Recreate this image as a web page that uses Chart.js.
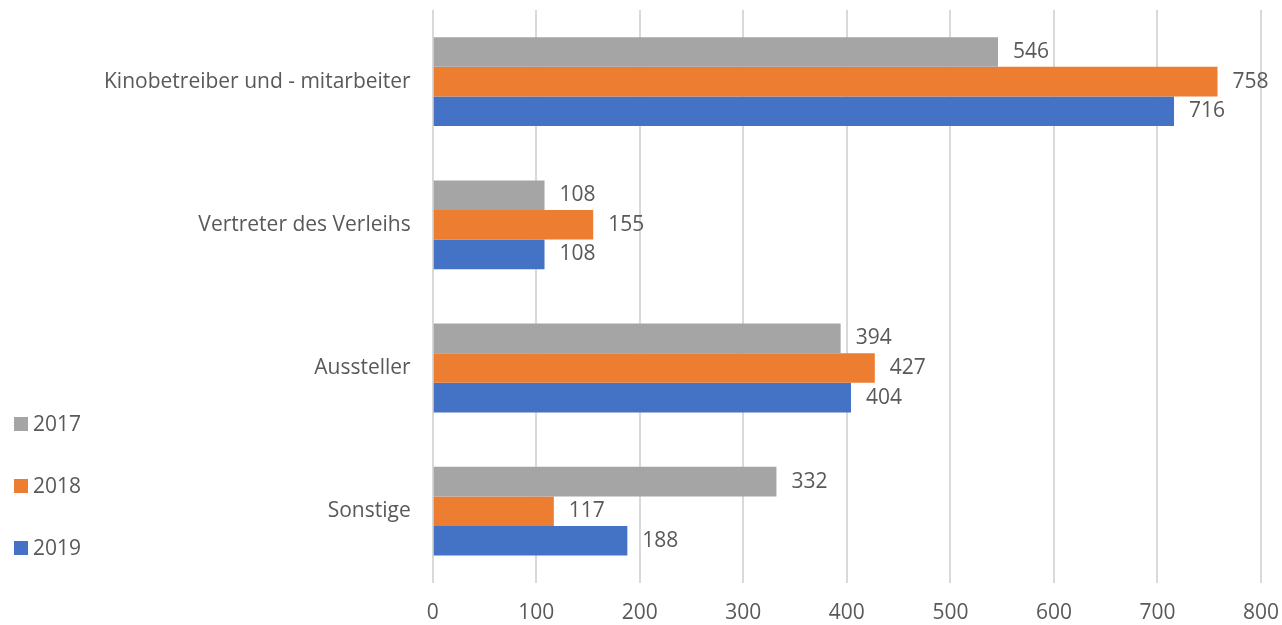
<!DOCTYPE html>
<html>
<head>
<meta charset="utf-8">
<script src="https://cdn.jsdelivr.net/npm/chart.js@4"></script>
<style>
  html, body { margin: 0; padding: 0; background: #fff; }
  #wrap { width: 1282px; height: 625px; }
</style>
</head>
<body>
<div id="wrap"><canvas id="chart"></canvas></div>
<script>
const categories = ["Kinobetreiber und - mitarbeiter", "Vertreter des Verleihs", "Aussteller", "Sonstige"];
const values2017 = [546, 108, 394, 332];
const values2018 = [758, 155, 427, 117];
const values2019 = [716, 108, 404, 188];
const xTicks = [0, 100, 200, 300, 400, 500, 600, 700, 800];

const textColor = "#595959";
const fontFamily = "'Open Sans', sans-serif";
const fontSize = 21;

// draws the value next to each bar end
const valueLabels = {
  id: "valueLabels",
  afterDatasetsDraw(chart) {
    const ctx = chart.ctx;
    ctx.save();
    ctx.fillStyle = textColor;
    ctx.font = fontSize + "px " + fontFamily;
    ctx.textBaseline = "middle";
    ctx.textAlign = "left";
    chart.data.datasets.forEach((ds, i) => {
      chart.getDatasetMeta(i).data.forEach((bar, j) => {
        ctx.fillText(ds.data[j], bar.x + 15, bar.y);
      });
    });
    ctx.restore();
  }
};

// legend sits bottom-left, with wide gaps like the original
const sideLegend = {
  id: "sideLegend",
  afterDraw(chart) {
    const ctx = chart.ctx;
    ctx.save();
    ctx.font = fontSize + "px " + fontFamily;
    ctx.textBaseline = "middle";
    ctx.textAlign = "left";
    chart.data.datasets.forEach((ds, i) => {
      const y = 424 + i * 62;
      ctx.fillStyle = ds.backgroundColor;
      ctx.fillRect(14, y - 7, 14, 14);
      ctx.fillStyle = textColor;
      ctx.fillText(ds.label, 33, y + 1);
    });
    ctx.restore();
  }
};

new Chart(document.getElementById("chart"), {
  type: "bar",
  data: {
    labels: categories,
    datasets: [
      { label: "2017", data: values2017, backgroundColor: "#A5A5A5" },
      { label: "2018", data: values2018, backgroundColor: "#ED7D31" },
      { label: "2019", data: values2019, backgroundColor: "#4472C4" }
    ]
  },
  options: {
    indexAxis: "y",
    responsive: true,
    maintainAspectRatio: false,
    animation: false,
    datasets: { bar: { barPercentage: 1, categoryPercentage: 0.62 } },
    layout: { padding: { top: 10, right: 21, left: 90, bottom: -19 } },
    scales: {
      x: {
        min: 0,
        max: 800,
        afterBuildTicks: (axis) => { axis.ticks = xTicks.map(v => ({ value: v })); },
        afterFit: (scale) => { scale.paddingLeft = 0; scale.paddingRight = 0; },
        grid: { color: "#D9D9D9", lineWidth: 2, drawTicks: false },
        border: { display: false },
        ticks: { color: textColor, font: { family: fontFamily, size: fontSize }, padding: 18 }
      },
      y: {
        afterFit: (scale) => { scale.paddingTop = 0; scale.paddingBottom = 0; },
        grid: { display: false },
        border: { display: false },
        ticks: { color: textColor, font: { family: fontFamily, size: fontSize }, padding: 14 }
      }
    },
    plugins: {
      legend: { display: false },
      tooltip: { enabled: false }
    }
  },
  plugins: [valueLabels, sideLegend]
});
</script>
</body>
</html>
